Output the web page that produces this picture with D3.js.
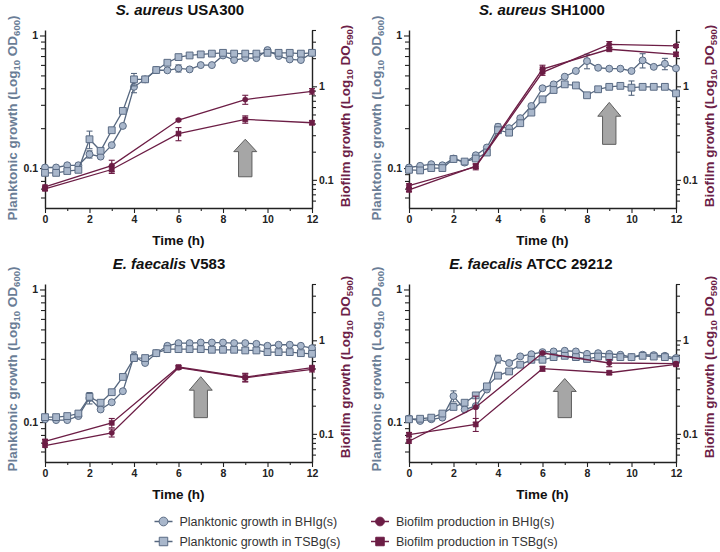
<!DOCTYPE html>
<html>
<head>
<meta charset="utf-8">
<script src="https://cdn.jsdelivr.net/npm/d3@7"></script>
<style>
body { margin: 0; background: #fff; }
svg { display: block; font-family: "Liberation Sans", Arial, sans-serif; }
</style>
</head>
<body>
<svg id="chart" width="720" height="552"></svg>
<script>
// time points
var plankTime = [0, 0.5, 1, 1.5, 2, 2.5, 3, 3.5, 4, 4.5, 5, 5.5, 6, 6.5, 7, 7.5, 8, 8.5, 9, 9.5, 10, 10.5, 11, 11.5, 12];
var bioTime = [0, 3, 6, 9, 12];

// tick labels
var xTicks = [0, 2, 4, 6, 8, 10, 12];
var xMinorTicks = [1, 3, 5, 7, 9, 11];
var leftMajor = [0.1, 1];
var leftMinor = [0.06, 0.07, 0.08, 0.09, 0.2, 0.3, 0.4, 0.5, 0.6, 0.7, 0.8, 0.9];
var rightMajor = [0.1, 1];
var rightMinor = [0.06, 0.07, 0.08, 0.09, 0.2, 0.3, 0.4, 0.5, 0.6, 0.7, 0.8, 0.9, 2, 3, 4];
var leftDomain = [0.05, 1.1];
var rightDomain = [0.05, 4];

// S. aureus USA300
var usa300PlankBHI = [0.101, 0.101, 0.105, 0.105, 0.127, 0.122, 0.149, 0.208, 0.41, 0.467, 0.549, 0.546, 0.565, 0.555, 0.598, 0.598, 0.707, 0.653, 0.675, 0.675, 0.776, 0.70, 0.66, 0.653, 0.74];
var usa300PlankBHIErr = [0, 0, 0, 0, 0.008, 0, 0, 0, 0.04, 0, 0, 0, 0.035, 0, 0, 0, 0, 0, 0, 0, 0, 0, 0, 0, 0];
var usa300PlankTSB = [0.092, 0.092, 0.095, 0.097, 0.165, 0.135, 0.193, 0.27, 0.467, 0.467, 0.549, 0.623, 0.687, 0.707, 0.72, 0.73, 0.74, 0.73, 0.73, 0.73, 0.74, 0.74, 0.74, 0.73, 0.74];
var usa300PlankTSBErr = [0, 0, 0, 0, 0.025, 0, 0, 0, 0.05, 0, 0, 0, 0, 0, 0, 0, 0.02, 0, 0, 0, 0.03, 0, 0, 0, 0];
var usa300BioBHI = [0.084, 0.142, 0.436, 0.722, 0.885];
var usa300BioBHIErr = [0.004, 0.02, 0.01, 0.08, 0.06];
var usa300BioTSB = [0.080, 0.129, 0.312, 0.443, 0.408];
var usa300BioTSBErr = [0.003, 0.012, 0.05, 0.04, 0.02];

// S. aureus SH1000
var sh1000PlankBHI = [0.101, 0.104, 0.107, 0.105, 0.118, 0.11, 0.125, 0.143, 0.205, 0.20, 0.238, 0.294, 0.40, 0.428, 0.489, 0.54, 0.641, 0.571, 0.562, 0.562, 0.54, 0.649, 0.58, 0.612, 0.565];
var sh1000PlankBHIErr = [0, 0, 0, 0, 0, 0, 0, 0, 0.01, 0, 0, 0, 0, 0, 0, 0, 0.08, 0, 0, 0, 0, 0.08, 0, 0.06, 0];
var sh1000PlankTSB = [0.097, 0.096, 0.10, 0.10, 0.117, 0.112, 0.118, 0.131, 0.193, 0.185, 0.218, 0.262, 0.33, 0.388, 0.428, 0.42, 0.354, 0.393, 0.41, 0.417, 0.404, 0.41, 0.41, 0.41, 0.366];
var sh1000PlankTSBErr = [0, 0, 0, 0, 0, 0, 0, 0, 0.01, 0, 0, 0, 0.01, 0, 0, 0, 0, 0, 0, 0, 0.05, 0, 0, 0, 0];
var sh1000BioBHI = [0.087, 0.138, 1.41, 2.81, 2.70];
var sh1000BioBHIErr = [0.004, 0.01, 0.1, 0.2, 0.1];
var sh1000BioTSB = [0.078, 0.14, 1.53, 2.49, 2.20];
var sh1000BioTSBErr = [0.003, 0.008, 0.15, 0.1, 0.1];

// E. faecalis V583
var v583PlankBHI = [0.105, 0.1035, 0.1035, 0.111, 0.152, 0.1245, 0.141, 0.171, 0.313, 0.279, 0.331, 0.376, 0.394, 0.394, 0.398, 0.398, 0.398, 0.394, 0.394, 0.389, 0.376, 0.383, 0.383, 0.376, 0.361];
var v583PlankBHIErr = [0, 0, 0, 0, 0.015, 0, 0, 0, 0.025, 0, 0, 0, 0, 0, 0, 0, 0, 0, 0, 0, 0, 0, 0, 0, 0];
var v583PlankTSB = [0.109, 0.109, 0.111, 0.116, 0.155, 0.14, 0.168, 0.219, 0.304, 0.304, 0.331, 0.355, 0.355, 0.355, 0.355, 0.351, 0.351, 0.351, 0.347, 0.347, 0.337, 0.337, 0.337, 0.331, 0.327];
var v583PlankTSBErr = [0, 0, 0, 0, 0.01, 0, 0, 0, 0.01, 0, 0, 0, 0, 0, 0, 0, 0, 0, 0, 0, 0, 0, 0, 0, 0];
var v583BioBHI = [0.075, 0.1025, 0.51, 0.398, 0.489];
var v583BioBHIErr = [0.003, 0.01, 0.02, 0.04, 0.03];
var v583BioTSB = [0.083, 0.131, 0.518, 0.404, 0.51];
var v583BioTSBErr = [0.004, 0.015, 0.02, 0.04, 0.02];

// E. faecalis ATCC 29212
var atccPlankBHI = [0.1065, 0.102, 0.105, 0.108, 0.157, 0.1245, 0.132, 0.176, 0.299, 0.279, 0.313, 0.325, 0.337, 0.341, 0.345, 0.341, 0.327, 0.331, 0.327, 0.322, 0.309, 0.322, 0.32, 0.316, 0.304];
var atccPlankBHIErr = [0, 0, 0, 0, 0.015, 0, 0, 0, 0.02, 0, 0, 0, 0, 0, 0, 0, 0, 0, 0, 0, 0, 0, 0, 0, 0];
var atccPlankTSB = [0.105, 0.106, 0.108, 0.116, 0.13, 0.14, 0.159, 0.186, 0.224, 0.241, 0.271, 0.295, 0.295, 0.309, 0.316, 0.309, 0.299, 0.312, 0.309, 0.309, 0.309, 0.316, 0.312, 0.309, 0.295];
var atccPlankTSBErr = [0, 0, 0, 0, 0.005, 0, 0, 0, 0, 0, 0, 0, 0, 0, 0, 0, 0, 0, 0, 0, 0, 0, 0, 0, 0];
var atccBioBHI = [0.0834, 0.193, 0.732, 0.572, 0.562];
var atccBioBHIErr = [0.004, 0.06, 0.02, 0.05, 0.02];
var atccBioTSB = [0.098, 0.126, 0.497, 0.45, 0.553];
var atccBioTSBErr = [0.005, 0.02, 0.03, 0.02, 0.02];

var legendLabels = ["Planktonic growth in BHIg(s)", "Planktonic growth in TSBg(s)", "Biofilm production in BHIg(s)", "Biofilm production in TSBg(s)"];

var plankLine = "#56677f", plankFill = "#a9b7cb", plankStroke = "#5a6b84";
var bioColor = "#6c1d45";
var leftLabelColor = "#6a7d96", rightLabelColor = "#6d1f48";
var axisColor = "#222";

var panels = [
    {italic: "S. aureus", rest: " USA300", titleX: 180, x0: 45, x1: 312, y0: 30, y1: 208,
     pb: usa300PlankBHI, pbe: usa300PlankBHIErr, pt: usa300PlankTSB, pte: usa300PlankTSBErr,
     bb: usa300BioBHI, bbe: usa300BioBHIErr, bt: usa300BioTSB, bte: usa300BioTSBErr,
     arrow: {x: 9, tip: 0.165, base: 0.086}},
    {italic: "S. aureus", rest: " SH1000", titleX: 542, x0: 409, x1: 676, y0: 30, y1: 208,
     pb: sh1000PlankBHI, pbe: sh1000PlankBHIErr, pt: sh1000PlankTSB, pte: sh1000PlankTSBErr,
     bb: sh1000BioBHI, bbe: sh1000BioBHIErr, bt: sh1000BioTSB, bte: sh1000BioTSBErr,
     arrow: {x: 9, tip: 0.313, base: 0.151}},
    {italic: "E. faecalis", rest: " V583", titleX: 169, x0: 45, x1: 312, y0: 284, y1: 462,
     pb: v583PlankBHI, pbe: v583PlankBHIErr, pt: v583PlankTSB, pte: v583PlankTSBErr,
     bb: v583BioBHI, bbe: v583BioBHIErr, bt: v583BioTSB, bte: v583BioTSBErr,
     arrow: {x: 7, tip: 0.22, base: 0.108}},
    {italic: "E. faecalis", rest: " ATCC 29212", titleX: 531, x0: 409, x1: 676, y0: 284, y1: 462,
     pb: atccPlankBHI, pbe: atccPlankBHIErr, pt: atccPlankTSB, pte: atccPlankTSBErr,
     bb: atccBioBHI, bbe: atccBioBHIErr, bt: atccBioTSB, bte: atccBioTSBErr,
     arrow: {x: 7, tip: 0.213, base: 0.108}}
];

var svg = d3.select("#chart");

var symbolFor = function(shape, area){
    return d3.symbol().type(shape == "circle" ? d3.symbolCircle : d3.symbolSquare).size(area)();
};

var drawSeries = function(g, xs, ys, times, values, errs, opt){
    var line = d3.line()
        .x(function(d, i){ return xs(times[i]); })
        .y(function(d){ return ys(d); });

    g.append("path")
        .attr("d", line(values))
        .attr("fill", "none")
        .attr("stroke", opt.line)
        .attr("stroke-width", 1.3);

    // error bars
    var eb = g.append("g");
    values.forEach(function(v, i){
        if (!errs[i]) return;
        var x = xs(times[i]), yt = ys(v + errs[i]), yb = ys(Math.max(v - errs[i], 0.001));
        eb.append("line").attr("x1", x).attr("x2", x).attr("y1", yt).attr("y2", yb);
        eb.append("line").attr("x1", x - 3).attr("x2", x + 3).attr("y1", yt).attr("y2", yt);
        eb.append("line").attr("x1", x - 3).attr("x2", x + 3).attr("y1", yb).attr("y2", yb);
    });
    eb.selectAll("line").attr("stroke", opt.line).attr("stroke-width", 1.1);

    g.append("g").selectAll("path")
        .data(values)
        .enter()
        .append("path")
        .attr("d", symbolFor(opt.shape, opt.area))
        .attr("transform", function(d, i){ return "translate(" + xs(times[i]) + "," + ys(d) + ")"; })
        .attr("fill", opt.fill)
        .attr("stroke", opt.stroke)
        .attr("stroke-width", opt.sw);
};

var axisLabel = function(g, x, y, color, parts){
    var t = g.append("text")
        .attr("transform", "translate(" + x + "," + y + ") rotate(-90)")
        .attr("text-anchor", "middle")
        .attr("dy", "0.35em")
        .attr("fill", color)
        .attr("font-size", 13.5)
        .attr("font-weight", "bold");
    parts.forEach(function(p){
        var s = t.append("tspan").text(p[0]);
        if (p[1]) s.attr("font-size", 9.5).attr("dy", 3);
        else if (p[2]) s.attr("dy", -3);
    });
};

panels.forEach(function(p){
    var g = svg.append("g");

    var xs = d3.scaleLinear().domain([0, 12]).range([p.x0, p.x1]);
    var yl = d3.scaleLog().domain(leftDomain).range([p.y1, p.y0]);
    var yr = d3.scaleLog().domain(rightDomain).range([p.y1, p.y0]);

    // title
    var title = g.append("text")
        .attr("x", p.titleX)
        .attr("y", p.y0 - 15)
        .attr("text-anchor", "middle")
        .attr("font-size", 15)
        .attr("font-weight", "bold")
        .attr("fill", "#111");
    title.append("tspan").attr("font-style", "italic").text(p.italic);
    title.append("tspan").text(p.rest);

    // arrow
    var ax = xs(p.arrow.x), at = yl(p.arrow.tip), ab = yl(p.arrow.base);
    var hh = (ab - at) * 0.33;
    g.append("path")
        .attr("d", "M" + ax + "," + at +
              "L" + (ax + 11.5) + "," + (at + hh) +
              "L" + (ax + 6.7) + "," + (at + hh) +
              "L" + (ax + 6.7) + "," + ab +
              "L" + (ax - 6.7) + "," + ab +
              "L" + (ax - 6.7) + "," + (at + hh) +
              "L" + (ax - 11.5) + "," + (at + hh) + "Z")
        .attr("fill", "#a6a6a6")
        .attr("stroke", "#5e5e5e")
        .attr("stroke-width", 1);

    // axes
    var xAxis = g.append("g")
        .attr("transform", "translate(0," + p.y1 + ")")
        .call(d3.axisBottom(xs).tickValues(xTicks).tickSize(5).tickSizeOuter(0).tickPadding(3));
    g.append("g")
        .attr("transform", "translate(0," + p.y1 + ")")
        .call(d3.axisBottom(xs).tickValues(xMinorTicks).tickSize(3).tickFormat(""))
        .select(".domain").remove();

    var lAxis = g.append("g")
        .attr("transform", "translate(" + p.x0 + ",0)")
        .call(d3.axisLeft(yl).tickValues(leftMajor).tickFormat(d3.format("~g")).tickSize(5).tickSizeOuter(0).tickPadding(2));
    g.append("g")
        .attr("transform", "translate(" + p.x0 + ",0)")
        .call(d3.axisLeft(yl).tickValues(leftMinor).tickFormat("").tickSize(4))
        .select(".domain").remove();

    var rAxis = g.append("g")
        .attr("transform", "translate(" + p.x1 + ",0)")
        .call(d3.axisRight(yr).tickValues(rightMajor).tickFormat(d3.format("~g")).tickSize(5).tickSizeOuter(0).tickPadding(2));
    g.append("g")
        .attr("transform", "translate(" + p.x1 + ",0)")
        .call(d3.axisRight(yr).tickValues(rightMinor).tickFormat("").tickSize(4))
        .select(".domain").remove();

    g.selectAll(".domain").attr("stroke", axisColor).attr("stroke-width", 1.4);
    g.selectAll(".tick line").attr("stroke", axisColor).attr("stroke-width", 1.1);
    g.selectAll(".tick text")
        .attr("font-family", "Liberation Sans, Arial, sans-serif")
        .attr("font-size", 10.5)
        .attr("font-weight", "bold")
        .attr("fill", axisColor);

    // axis titles
    g.append("text")
        .attr("x", (p.x0 + p.x1) / 2)
        .attr("y", p.y1 + 37)
        .attr("text-anchor", "middle")
        .attr("font-size", 13.5)
        .attr("font-weight", "bold")
        .attr("fill", "#111")
        .text("Time (h)");

    var cy = (p.y0 + p.y1) / 2 - (p.y0 > 100 ? 4 : 1);
    axisLabel(g, p.x0 - 33, cy, leftLabelColor,
              [["Planktonic growth (Log"], ["10", true], [" OD", false, true], ["600", true], [")", false, true]]);
    axisLabel(g, p.x1 + 33, cy - 2, rightLabelColor,
              [["Biofilm growth (Log"], ["10", true], [" DO", false, true], ["590", true], [")", false, true]]);

    // data
    var plankOpt = {line: plankLine, fill: plankFill, stroke: plankStroke, sw: 1};
    drawSeries(g, xs, yl, plankTime, p.pb, p.pbe, Object.assign({shape: "circle", area: 38}, plankOpt));
    drawSeries(g, xs, yl, plankTime, p.pt, p.pte, Object.assign({shape: "square", area: 46}, plankOpt));

    var bioOpt = {line: bioColor, fill: bioColor, stroke: bioColor, sw: 0.5};
    drawSeries(g, xs, yr, bioTime, p.bb, p.bbe, Object.assign({shape: "circle", area: 22}, bioOpt));
    drawSeries(g, xs, yr, bioTime, p.bt, p.bte, Object.assign({shape: "square", area: 26}, bioOpt));
});

// legend
var legendItems = [
    {label: legendLabels[0], col: 0, row: 0, shape: "circle", line: plankLine, fill: plankFill, stroke: plankStroke},
    {label: legendLabels[1], col: 0, row: 1, shape: "square", line: plankLine, fill: plankFill, stroke: plankStroke},
    {label: legendLabels[2], col: 1, row: 0, shape: "circle", line: bioColor, fill: bioColor, stroke: bioColor},
    {label: legendLabels[3], col: 1, row: 1, shape: "square", line: bioColor, fill: bioColor, stroke: bioColor}
];
var legendColX = [163.5, 380], legendRowY = [521.5, 541.5];

var legend = svg.append("g");
var items = legend.selectAll("g")
    .data(legendItems)
    .enter()
    .append("g")
    .attr("transform", function(d){ return "translate(" + legendColX[d.col] + "," + legendRowY[d.row] + ")"; });

items.append("line")
    .attr("x1", -9).attr("x2", 9)
    .attr("stroke", function(d){ return d.line; })
    .attr("stroke-width", 1.5);
items.append("path")
    .attr("d", function(d){ return symbolFor(d.shape, d.shape == "circle" ? 60 : 72); })
    .attr("fill", function(d){ return d.fill; })
    .attr("stroke", function(d){ return d.stroke; })
    .attr("stroke-width", 1);
items.append("text")
    .attr("x", 16)
    .attr("dy", "0.35em")
    .attr("font-size", 12.5)
    .attr("fill", "#333")
    .text(function(d){ return d.label; });
</script>
</body>
</html>
